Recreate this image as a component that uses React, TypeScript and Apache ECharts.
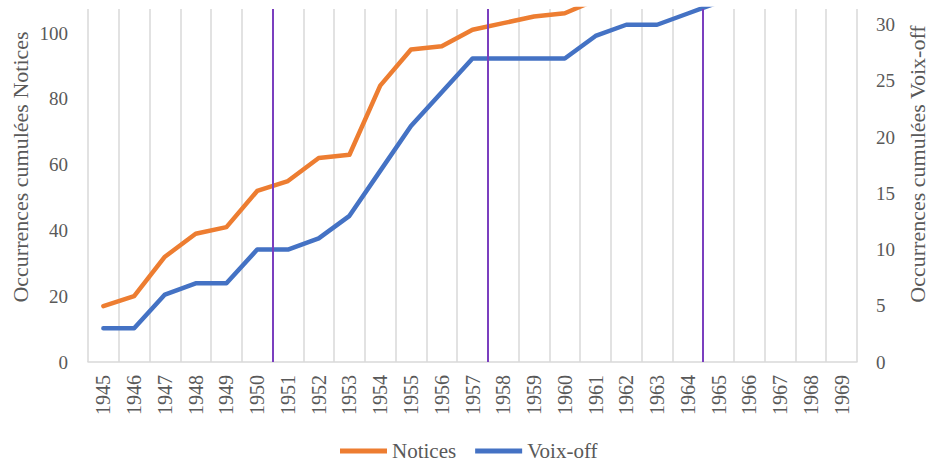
import React, { useEffect, useRef } from "react";
import * as echarts from "echarts";

const years = [
  "1945", "1946", "1947", "1948", "1949", "1950", "1951", "1952", "1953", "1954",
  "1955", "1956", "1957", "1958", "1959", "1960", "1961", "1962", "1963", "1964",
  "1965", "1966", "1967", "1968", "1969",
];
// Cumulative Notices (left axis); values above the visible top are clipped
const notices = [17, 20, 32, 39, 41, 52, 55, 62, 63, 84, 95, 96, 101, 103, 105, 106, 110];
// Cumulative Voix-off (right axis)
const voixOff = [3, 3, 6, 7, 7, 10, 10, 11, 13, 17, 21, 24, 27, 27, 27, 27, 29, 30, 30, 31, 32];
// Vertical purple markers placed just after these years
const markerAfterYears = ["1950", "1957", "1964"];

const leftTicks = { min: 0, max: 107.3, interval: 20 };
const rightTicks = { min: 0, max: 31.4, interval: 5 };

const FONT = "'Liberation Serif', 'Times New Roman', serif";
const GREY = "#595959";

export default function App() {
  const ref = useRef<HTMLDivElement>(null);
  useEffect(() => {
    document.body.style.margin = "0";
    if (!ref.current) return;
    const chart = echarts.init(ref.current, undefined, { renderer: "svg" });
    const markerPositions = markerAfterYears.map((y) => years.indexOf(y) + 1);
    chart.setOption({
      animation: false,
      backgroundColor: "#ffffff",
      grid: { left: 88, right: 72, top: 9, bottom: 102, containLabel: false },
      legend: {
        data: ["Notices", "Voix-off"],
        left: 338,
        top: 438,
        padding: 2,
        icon: "rect",
        itemWidth: 47,
        itemHeight: 5,
        itemGap: 19,
        textStyle: { fontFamily: FONT, fontSize: 21, lineHeight: 22, color: GREY },
      },
      xAxis: [
        {
          type: "category",
          data: years,
          boundaryGap: true,
          axisLine: { show: true, lineStyle: { color: "#d9d9d9", width: 1.5 } },
          axisTick: { show: false },
          splitLine: { show: true, interval: 0, lineStyle: { color: "#d9d9d9", width: 1.5 } },
          axisLabel: {
            rotate: 90,
            interval: 0,
            margin: 13,
            fontFamily: FONT,
            fontSize: 20,
            color: GREY,
          },
        },
        {
          type: "value",
          min: 0,
          max: years.length,
          show: false,
        },
      ],
      yAxis: [
        {
          type: "value",
          position: "left",
          min: leftTicks.min,
          max: leftTicks.max,
          interval: leftTicks.interval,
          axisLine: { show: false },
          axisTick: { show: false },
          splitLine: { show: false },
          axisLabel: {
            showMaxLabel: false,
            margin: 20,
            fontFamily: FONT,
            fontSize: 19,
            color: GREY,
          },
        },
        {
          type: "value",
          position: "right",
          min: rightTicks.min,
          max: rightTicks.max,
          interval: rightTicks.interval,
          axisLine: { show: false },
          axisTick: { show: false },
          splitLine: { show: false },
          axisLabel: {
            showMaxLabel: false,
            margin: 19,
            fontFamily: FONT,
            fontSize: 19,
            color: GREY,
          },
        },
      ],
      graphic: [
        {
          type: "text",
          x: 20,
          y: 167,
          rotation: Math.PI / 2,
          style: {
            text: "Occurrences cumulées Notices",
            fontFamily: FONT,
            fontSize: 22,
            fill: GREY,
            textAlign: "center",
            textVerticalAlign: "middle",
          },
        },
        {
          type: "text",
          x: 917,
          y: 164,
          rotation: Math.PI / 2,
          style: {
            text: "Occurrences cumulées Voix-off",
            fontFamily: FONT,
            fontSize: 22,
            fill: GREY,
            textAlign: "center",
            textVerticalAlign: "middle",
          },
        },
      ],
      series: [
        {
          name: "Notices",
          type: "line",
          data: notices,
          xAxisIndex: 0,
          yAxisIndex: 0,
          showSymbol: false,
          symbol: "none",
          lineStyle: { color: "#ED7D31", width: 4.5, cap: "round", join: "round" },
          itemStyle: { color: "#ED7D31" },
          clip: true,
          z: 3,
        },
        {
          name: "Voix-off",
          type: "line",
          data: voixOff,
          xAxisIndex: 0,
          yAxisIndex: 1,
          showSymbol: false,
          symbol: "none",
          lineStyle: { color: "#4472C4", width: 4.5, cap: "round", join: "round" },
          itemStyle: { color: "#4472C4" },
          clip: true,
          z: 3,
        },
        {
          name: "markers",
          type: "scatter",
          xAxisIndex: 1,
          yAxisIndex: 0,
          data: markerPositions.map((p) => [p, 0]),
          symbolSize: 0,
          silent: true,
          z: 4,
          markLine: {
            silent: true,
            symbol: ["none", "none"],
            label: { show: false },
            lineStyle: { color: "#7B3FBF", width: 2, type: "solid" },
            data: markerPositions.map((p) => ({ xAxis: p })),
          },
        },
      ],
    });
    return () => chart.dispose();
  }, []);
  return <div ref={ref} style={{ width: 929, height: 464 }} />;
}
